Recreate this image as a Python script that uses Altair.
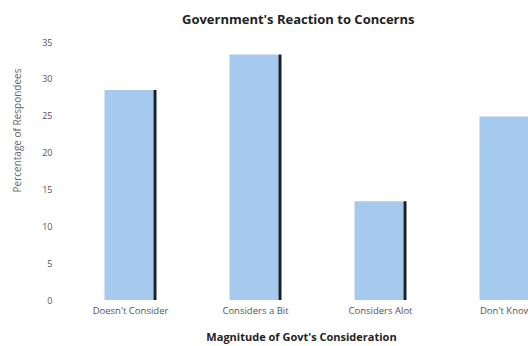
import altair as alt
import pandas as pd

categories = ["Doesn't Consider", "Considers a Bit", "Considers Alot", "Don't Know"]
values = [28.5, 33.3, 13.4, 24.9]

df = pd.DataFrame({"cat": categories, "val": values})

FONT = "Open Sans"

x = alt.X("cat:N", sort=categories,
          scale=alt.Scale(paddingInner=0, paddingOuter=0, range=[0, 500]),
          axis=alt.Axis(title="Magnitude of Govt's Consideration", labelAngle=0,
                        domain=False, ticks=False, labelFontSize=9.5, labelColor="#555555",
                        labelFont=FONT, labelPadding=5, titleFont=FONT, titleFontSize=11,
                        titleFontWeight="bold", titleColor="#222222", titlePadding=17,
                        titleX=233, titleAnchor="middle"))
y = alt.Y("val:Q", scale=alt.Scale(domain=[0, 35], nice=False),
          axis=alt.Axis(title="Percentage of Respondees", values=[0, 5, 10, 15, 20, 25, 30, 35],
                        domain=False, ticks=False, grid=False, labelFontSize=9,
                        labelColor="#555555", labelFont=FONT, labelPadding=16,
                        titleFont=FONT, titleFontSize=10, titleFontWeight="normal",
                        titleColor="#666666", titleX=-46, titleY=88, titleAnchor="middle"))

bars = alt.Chart(df).mark_bar(width=49, xOffset=-1.5, color="#a5caed").encode(x=x, y=y)
shadow = alt.Chart(df).mark_bar(width=3, xOffset=24.5, color="#1a1f2a").encode(x=x, y=y)

chart = (bars + shadow).properties(
    width=460, height=258, background="white",
    title=alt.TitleParams("Government's Reaction to Concerns", font=FONT, fontSize=13,
                          fontWeight="bold", color="#222222", anchor="start", dx=170, offset=11),
    padding={"left": 68, "top": 42, "right": 0, "bottom": 46},
    autosize=alt.AutoSizeParams(type="none"),
).configure_view(stroke=None)

chart.save("out.html", embed_options={"renderer": "svg", "actions": False})
